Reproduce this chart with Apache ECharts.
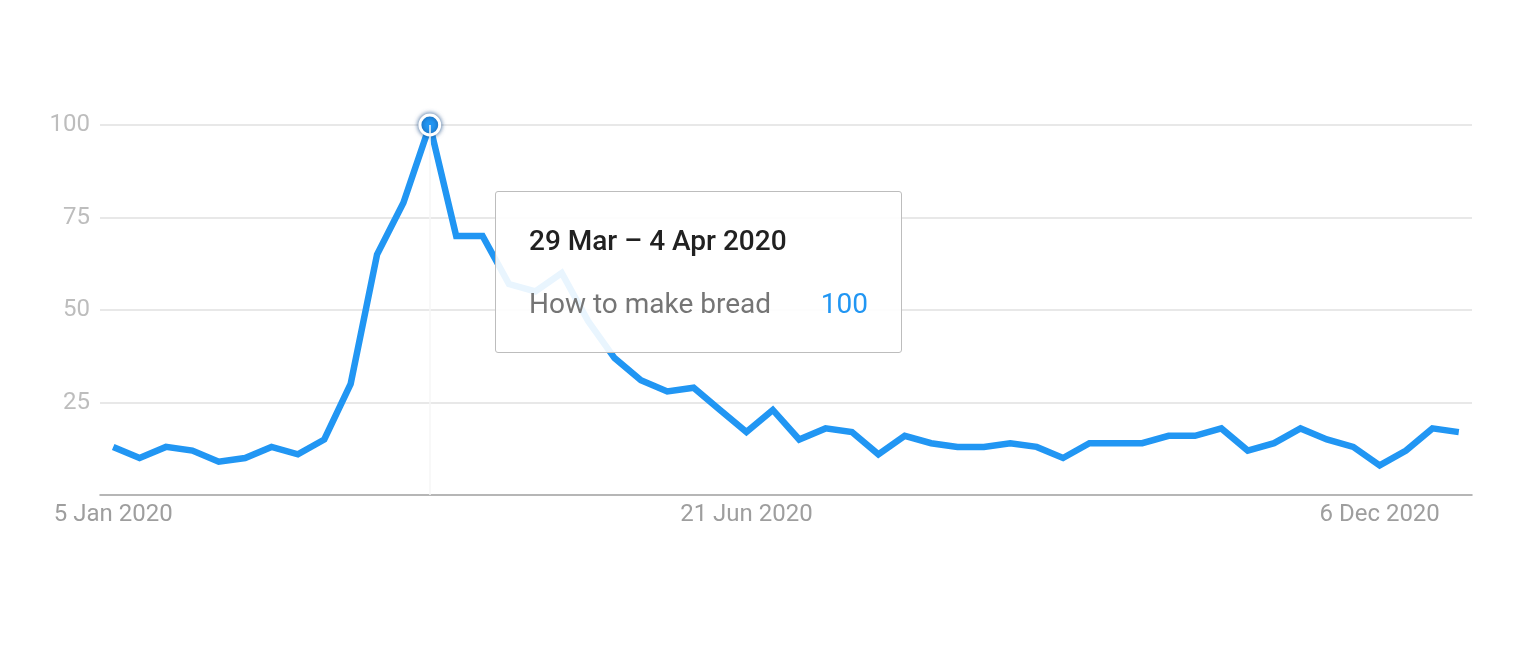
<!DOCTYPE html>
<html>
<head>
<meta charset="utf-8">
<title>How to make bread</title>
<script src="https://cdn.jsdelivr.net/npm/echarts@6/dist/echarts.min.js"></script>
<style>
  html, body { margin: 0; padding: 0; background: #fff; }
  #container { width: 1528px; height: 664px; }
</style>
</head>
<body>
<div id="container"></div>
<script>
// weeks (start day), 2020
var weeks = [
  '2020-01-05','2020-01-12','2020-01-19','2020-01-26','2020-02-02','2020-02-09','2020-02-16',
  '2020-02-23','2020-03-01','2020-03-08','2020-03-15','2020-03-22','2020-03-29','2020-04-05',
  '2020-04-12','2020-04-19','2020-04-26','2020-05-03','2020-05-10','2020-05-17','2020-05-24',
  '2020-05-31','2020-06-07','2020-06-14','2020-06-21','2020-06-28','2020-07-05','2020-07-12',
  '2020-07-19','2020-07-26','2020-08-02','2020-08-09','2020-08-16','2020-08-23','2020-08-30',
  '2020-09-06','2020-09-13','2020-09-20','2020-09-27','2020-10-04','2020-10-11','2020-10-18',
  '2020-10-25','2020-11-01','2020-11-08','2020-11-15','2020-11-22','2020-11-29','2020-12-06',
  '2020-12-13','2020-12-20','2020-12-27'
];
// interest over time
var interest = [
  13, 10, 13, 12, 9, 10, 13, 11, 15, 30, 65, 79, 100, 70,
  70, 57, 55, 60, 47, 37, 31, 28, 29, 23, 17, 23, 15, 18,
  17, 11, 16, 14, 13, 13, 14, 13, 10, 14, 14, 14, 16, 16,
  18, 12, 14, 18, 15, 13, 8, 12, 18, 17
];
var seriesName = 'How to make bread';
var xTickIndex = [0, 24, 48];
var xTickLabels = ['5 Jan 2020', '21 Jun 2020', '6 Dec 2020'];
var yTicks = [25, 50, 75, 100];
var focusIndex = 12;

var months = ['Jan','Feb','Mar','Apr','May','Jun','Jul','Aug','Sep','Oct','Nov','Dec'];
function weekRange(s) {
  var d = new Date(s + 'T00:00:00Z');
  var e = new Date(d.getTime() + 6 * 86400000);
  var a = d.getUTCDate() + ' ' + months[d.getUTCMonth()];
  var b = e.getUTCDate() + ' ' + months[e.getUTCMonth()] + ' ' + e.getUTCFullYear();
  return a + ' \u2013 ' + b;
}

var dom = document.getElementById('container');
var myChart = echarts.init(dom);

var lineData = [];
for (var i = 0; i < interest.length; i++) {
  if (i === focusIndex) {
    lineData.push({
      value: interest[i],
      symbol: 'circle',
      symbolSize: 18,
      itemStyle: {
        color: '#2196f3',
        borderColor: '#fff',
        borderWidth: 3,
        shadowBlur: 5,
        shadowColor: 'rgba(20,70,130,0.8)'
      }
    });
  } else {
    lineData.push(interest[i]);
  }
}

var option = {
  animation: false,
  textStyle: { fontFamily: 'Roboto, "Noto Sans", sans-serif' },
  grid: { left: 100, right: 56, top: 125, bottom: 169, containLabel: false },
  tooltip: {
    trigger: 'axis',
    alwaysShowContent: true,
    triggerOn: 'none',
    position: [495, 191],
    padding: 0,
    backgroundColor: 'rgba(255,255,255,0.9)',
    borderColor: '#bdbdbd',
    borderWidth: 1,
    extraCssText: 'border-radius:3px;box-shadow:none;width:407px;height:162px;box-sizing:border-box;',
    axisPointer: {
      type: 'line',
      lineStyle: { color: '#f6f6f6', width: 1.5, type: 'solid' }
    },
    formatter: function (params) {
      var p = params[0];
      return '<div style="padding:33px 33px 0 33px;font-family:Roboto,sans-serif;">' +
        '<div style="font-size:28px;font-weight:500;color:#212121;line-height:32px;">' + weekRange(weeks[p.dataIndex]) + '</div>' +
        '<div style="display:flex;justify-content:space-between;margin-top:31px;font-size:28px;line-height:32px;">' +
        '<span style="color:#757575;">' + p.seriesName + '</span>' +
        '<span style="color:#2196f3;">' + p.value + '</span></div></div>';
    }
  },
  xAxis: {
    type: 'category',
    data: weeks,
    boundaryGap: true,
    axisLine: { show: true, lineStyle: { color: '#9e9e9e', width: 1.5 } },
    axisTick: { show: false },
    axisLabel: {
      interval: function (index) { return xTickIndex.indexOf(index) >= 0; },
      formatter: function (v, idx) {
        var k = xTickIndex.indexOf(idx);
        return k >= 0 ? xTickLabels[k] : '';
      },
      color: '#9e9e9e',
      fontSize: 24,
      margin: 8
    },
    splitLine: { show: false }
  },
  yAxis: {
    type: 'value',
    min: 0,
    max: 100,
    interval: 25,
    axisLine: { show: false },
    axisTick: { show: false },
    axisLabel: {
      color: '#bdbdbd',
      fontSize: 24,
      margin: 10,
      formatter: function (v) { return yTicks.indexOf(v) >= 0 ? String(v) : ''; }
    },
    splitLine: {
      show: true,
      lineStyle: { color: '#e0e0e0', width: 1.5 },
      showMinLine: false
    }
  },
  series: [
    {
      name: seriesName,
      type: 'line',
      data: lineData,
      symbol: 'none',
      showSymbol: true,
      lineStyle: { color: '#2196f3', width: 6.5, join: 'miter' },
      itemStyle: { color: '#2196f3' },
      emphasis: { disabled: true },
      z: 3
    }
  ]
};

myChart.setOption(option, true);
setTimeout(function () {
  myChart.dispatchAction({ type: 'showTip', seriesIndex: 0, dataIndex: focusIndex });
}, 50);
</script>
</body>
</html>
